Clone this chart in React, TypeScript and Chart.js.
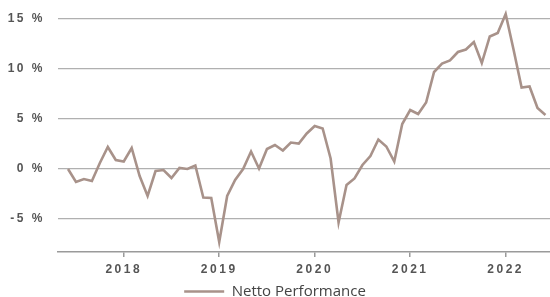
import React, { useEffect, useRef } from "react";
import { Chart, registerables } from "chart.js";

Chart.register(...registerables);

const months: string[] = [
  "2017-06", "2017-07", "2017-08", "2017-09", "2017-10", "2017-11", "2017-12",
  "2018-01", "2018-02", "2018-03", "2018-04", "2018-05", "2018-06", "2018-07", "2018-08", "2018-09", "2018-10", "2018-11", "2018-12",
  "2019-01", "2019-02", "2019-03", "2019-04", "2019-05", "2019-06", "2019-07", "2019-08", "2019-09", "2019-10", "2019-11", "2019-12",
  "2020-01", "2020-02", "2020-03", "2020-04", "2020-05", "2020-06", "2020-07", "2020-08", "2020-09", "2020-10", "2020-11", "2020-12",
  "2021-01", "2021-02", "2021-03", "2021-04", "2021-05", "2021-06", "2021-07", "2021-08", "2021-09", "2021-10", "2021-11", "2021-12",
  "2022-01", "2022-02", "2022-03", "2022-04", "2022-05", "2022-06",
];

const nettoPerformance: number[] = [
  0.0, -1.3, -1.0, -1.2, 0.6, 2.2, 0.9,
  0.75, 2.1, -0.7, -2.7, -0.2, -0.1, -0.9, 0.1, 0.0, 0.35, -2.85, -2.9,
  -7.3, -2.7, -1.1, 0.0, 1.75, 0.05, 2.0, 2.4, 1.85, 2.65, 2.55, 3.55,
  4.3, 4.05, 1.05, -5.35, -1.6, -0.95, 0.4, 1.3, 2.95, 2.25, 0.75, 4.5,
  5.9, 5.5, 6.65, 9.7, 10.55, 10.85, 11.7, 11.95, 12.7, 10.6, 13.25, 13.6,
  15.5, 11.9, 8.15, 8.25, 6.1, 5.4,
];

const yearLabels: string[] = ["2018", "2019", "2020", "2021", "2022"];
const yTickValues: number[] = [-5, 0, 5, 10, 15];
const seriesName = "Netto Performance";

const LINE_COLOR = "#a8928a";
const TEXT_COLOR = "#555555";
const GRID_COLOR = "#b0b0b0";
const AXIS_COLOR = "#9a9a9a";

const letterSpacingPlugin = {
  id: "letterSpacingPlugin",
  beforeDraw(chart: any) {
    const lg = chart.legend;
    if (lg && !lg.__wrapped) {
      const orig = lg.draw.bind(lg);
      lg.draw = (...args: any[]) => {
        const c = chart.ctx;
        const prev = c.letterSpacing;
        c.letterSpacing = "0px";
        orig(...args);
        c.letterSpacing = prev;
      };
      lg.__wrapped = true;
    }
    chart.ctx.letterSpacing = "2.5px";
  },
  afterDraw(chart: any) {
    chart.ctx.letterSpacing = "0px";
  },
};

export default function App() {
  const canvasRef = useRef<HTMLCanvasElement | null>(null);

  useEffect(() => {
    if (!canvasRef.current) return;
    const yearPositions = yearLabels.map((y) => months.indexOf(y + "-01"));
    const chart = new Chart(canvasRef.current, {
      type: "line",
      data: {
        datasets: [
          {
            label: seriesName,
            data: nettoPerformance.map((v, i) => ({ x: i, y: v })),
            borderColor: LINE_COLOR,
            backgroundColor: LINE_COLOR,
            borderWidth: 2.6,
            pointRadius: 0,
            tension: 0,
            fill: false,
          },
        ],
      },
      plugins: [letterSpacingPlugin],
      options: {
        responsive: false,
        animation: false,
        layout: { padding: { top: 9, left: 0, right: 0, bottom: 0 } },
        plugins: {
          tooltip: { enabled: false },
          legend: {
            display: true,
            position: "bottom",
            maxHeight: 19,
            labels: {
              usePointStyle: true,
              pointStyle: "line",
              pointStyleWidth: 40,
              padding: 6,
              color: "#444444",
              font: { family: "'Open Sans', sans-serif", size: 15 },
            },
          },
        },
        scales: {
          x: {
            type: "linear",
            min: -1.26,
            max: 60.57,
            afterBuildTicks: (scale: any) => {
              scale.ticks = yearPositions.map((v) => ({ value: v }));
            },
            afterFit: (scale: any) => {
              scale.height = 26;
              scale.paddingLeft = 0;
              scale.paddingRight = 0;
            },
            ticks: {
              autoSkip: false,
              maxRotation: 0,
              padding: 5,
              color: TEXT_COLOR,
              font: { family: "'Liberation Sans', Arial, sans-serif", size: 12, weight: "bold" },
              callback: (value: any) => {
                const idx = yearPositions.indexOf(Number(value));
                return idx >= 0 ? yearLabels[idx] : "";
              },
            },
            grid: {
              drawOnChartArea: false,
              drawTicks: true,
              tickLength: 5,
              color: AXIS_COLOR,
              lineWidth: 1.5,
            },
            border: { display: true, color: AXIS_COLOR, width: 1.5 },
          },
          y: {
            type: "linear",
            min: -8.3,
            max: 16,
            afterBuildTicks: (scale: any) => {
              scale.ticks = yTickValues.map((v) => ({ value: v }));
            },
            afterFit: (scale: any) => {
              scale.width = 58;
              scale.paddingTop = 0;
              scale.paddingBottom = 0;
            },
            ticks: {
              padding: 13,
              color: TEXT_COLOR,
              font: { family: "'Liberation Sans', Arial, sans-serif", size: 12, weight: "bold" },
              callback: (value: any) => value + " %",
            },
            grid: {
              drawTicks: false,
              color: GRID_COLOR,
              lineWidth: 1.2,
            },
            border: { display: false },
          },
        },
      },
    });
    return () => chart.destroy();
  }, []);

  return (
    <div style={{ position: "fixed", left: 0, top: 0, width: 550, height: 297, background: "#ffffff" }}>
      <canvas ref={canvasRef} width={550} height={297} />
    </div>
  );
}
